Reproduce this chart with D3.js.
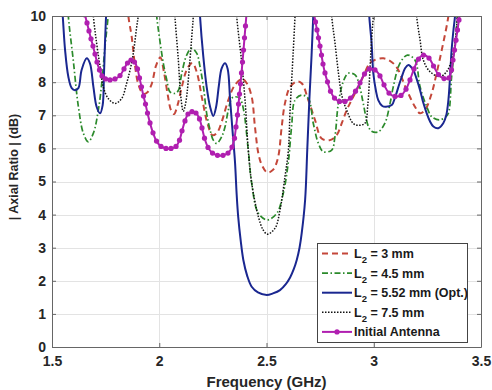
<!DOCTYPE html>
<html>
<head>
<meta charset="utf-8">
<script src="https://cdn.jsdelivr.net/npm/d3@7"></script>
<style>
  body { margin: 0; background: #fff; }
  svg { display: block; font-family: "Liberation Sans", Arial, Helvetica, sans-serif; }
</style>
</head>
<body>
<svg width="492" height="390"></svg>
<script>
// tick values
var freqTicks = [1.5, 2, 2.5, 3, 3.5];
var arTicks = [0, 1, 2, 3, 4, 5, 6, 7, 8, 9, 10];

// [frequency GHz, axial ratio dB]; null = curve leaves the plot (above 10 dB)
var l2_3mm = [
  [1.845,11.2],[1.856,10],[1.871,9.4],[1.887,8.5],[1.902,7.95],[1.925,7.65],[1.945,7.7],[1.965,7.95],
  [1.985,8.5],[2.005,8.75],[2.022,8.3],[2.04,7.6],[2.055,7.15],[2.069,7.04],[2.085,7.3],[2.105,7.85],
  [2.13,8.4],[2.155,8.58],[2.175,8.3],[2.2,7.5],[2.225,6.75],[2.248,6.4],[2.27,6.48],[2.291,6.8],
  [2.322,7.46],[2.353,7.92],[2.386,8.1],[2.408,7.97],[2.431,7.56],[2.446,6.66],[2.462,5.85],[2.478,5.5],
  [2.504,5.27],[2.53,5.35],[2.553,5.7],[2.571,6.66],[2.586,7.36],[2.61,7.86],[2.641,8.02],[2.664,7.97],
  [2.695,7.46],[2.726,6.86],[2.757,6.3],[2.796,6.25],[2.827,6.4],[2.851,6.76],[2.874,7.16],[2.897,7.46],
  [2.928,7.86],[2.951,8.17],[2.986,8.6],[3.045,8.72],[3.099,8.52],[3.154,7.76],[3.192,7.26],[3.216,7.06],
  [3.239,7.16],[3.27,7.66],[3.293,8.27],[3.317,8.97],[3.348,10],[3.36,10.8]
];

var l2_4_5mm = [
  [1.565,11.2],[1.576,10],[1.599,8.67],[1.623,7.26],[1.646,6.46],[1.669,6.2],[1.693,6.46],[1.716,7.16],
  [1.732,7.97],[1.747,9.07],[1.762,10],[1.775,11],
  null,
  [1.975,11.2],[1.988,10],[1.996,9.58],[2.019,8.57],[2.035,8.07],[2.05,7.71],[2.073,7.66],[2.089,7.75],
  [2.105,8.27],[2.128,8.82],[2.151,9.02],[2.175,8.87],[2.19,8.47],[2.206,7.86],[2.221,7.06],[2.237,6.56],
  [2.252,6.25],[2.268,6.15],[2.291,6.35],[2.307,6.66],[2.322,7.16],[2.338,7.51],[2.353,7.56],[2.376,7.51],
  [2.392,7.2],[2.415,5.95],[2.431,4.95],[2.462,4.04],[2.504,3.84],[2.548,4.04],[2.578,4.64],[2.602,5.6],
  [2.617,6.66],[2.633,7.46],[2.664,7.61],[2.695,7.51],[2.718,6.76],[2.742,6.15],[2.765,5.9],[2.804,5.95],
  [2.819,6.35],[2.835,7.36],[2.858,8.02],[2.881,8.27],[2.913,8.22],[2.936,7.82],[2.951,7.36],[2.975,6.66],
  [2.99,6.52],[3.021,6.5],[3.052,6.76],[3.076,7.36],[3.091,7.86],[3.122,8.57],[3.157,8.82],[3.192,8.67],
  [3.216,7.86],[3.247,7.26],[3.27,6.96],[3.305,6.86],[3.335,6.95],[3.348,7.06],[3.363,8.17],[3.379,9.18],
  [3.39,10],[3.4,11]
];

var l2_5_52mm = [
  [1.535,11.3],[1.55,10],[1.561,8.97],[1.576,8.17],[1.592,7.82],[1.607,7.76],[1.623,7.82],[1.638,8.37],
  [1.662,8.72],[1.677,8.57],[1.693,7.86],[1.708,7.26],[1.724,7.06],[1.736,7.3],[1.742,8.17],[1.747,9.18],
  [1.752,10],[1.758,11],
  null,
  [2.18,11.3],[2.19,10],[2.205,8.8],[2.221,7.86],[2.237,7.26],[2.252,6.98],[2.265,7.25],[2.278,7.9],
  [2.291,8.42],[2.307,8.57],[2.319,8.4],[2.33,7.5],[2.342,6.5],[2.353,5.6],[2.361,4.6],[2.368,3.94],
  [2.38,3.2],[2.392,2.63],[2.41,2.15],[2.431,1.82],[2.46,1.65],[2.501,1.57],[2.53,1.62],[2.563,1.72],
  [2.59,1.9],[2.61,2.1],[2.627,2.35],[2.641,2.63],[2.654,3.0],[2.664,3.43],[2.68,4.44],[2.69,5.95],
  [2.7,7.5],[2.71,8.8],[2.718,10],[2.726,11.2],
  null,
  [2.97,11.2],[2.979,10],[2.99,9.18],[2.998,8.27],[3.01,7.75],[3.021,7.46],[3.04,7.28],[3.057,7.26],
  [3.084,7.31],[3.1,7.55],[3.115,7.86],[3.13,8.15],[3.146,8.42],[3.161,8.52],[3.184,8.37],[3.2,8.1],
  [3.216,7.76],[3.23,7.4],[3.247,7.06],[3.262,6.82],[3.278,6.66],[3.301,6.61],[3.324,6.76],[3.338,7.0],
  [3.348,7.46],[3.356,8.2],[3.363,8.97],[3.372,9.6],[3.379,10],[3.39,11]
];

var l2_7_5mm = [
  [1.685,11],[1.693,10],[1.708,9.18],[1.724,8.47],[1.739,7.86],[1.762,7.51],[1.794,7.36],[1.825,7.51],
  [1.848,7.97],[1.864,8.37],[1.879,8.87],[1.895,9.68],[1.902,10],[1.91,10.8],
  null,
  [2.065,11],[2.073,10],[2.089,8.67],[2.1,7.6],[2.112,7.12],[2.124,7.4],[2.143,8.67],[2.154,9.58],
  [2.159,10],[2.167,10.8],
  null,
  [2.353,11],[2.361,10],[2.384,8.62],[2.4,7.46],[2.415,5.95],[2.431,4.95],[2.462,3.94],[2.485,3.53],
  [2.504,3.41],[2.54,3.59],[2.563,4.14],[2.586,5.14],[2.602,5.95],[2.61,7.16],[2.625,8.97],[2.633,10],
  [2.64,11],
  null,
  [2.797,11],[2.804,10],[2.819,9.2],[2.835,8.3],[2.851,7.6],[2.874,7.15],[2.905,6.75],[2.93,6.7],
  [2.959,6.76],[2.972,7.3],[2.983,8.47],[2.99,9.3],[2.998,10],[3.005,11],
  null,
  [3.192,11],[3.2,10],[3.216,9.27],[3.231,8.67],[3.262,8.32],[3.309,8.17],[3.34,8.32],[3.363,8.67],
  [3.379,9.18],[3.39,10],[3.4,11]
];

var initialAntenna = [
  [1.6538,10.03],[1.6632,9.79],[1.6725,9.55],[1.6818,9.31],[1.6911,9.09],[1.7005,8.85],[1.7098,8.61],
  [1.7214,8.37],[1.7331,8.19],[1.7494,8.10],[1.7704,8.07],[1.7937,8.10],[1.8170,8.20],[1.8357,8.40],
  [1.8520,8.58],[1.8683,8.67],[1.8846,8.61],[1.8986,8.40],[1.9079,8.13],[1.9172,7.86],[1.9266,7.58],
  [1.9359,7.34],[1.9452,7.07],[1.9569,6.77],[1.9709,6.47],[1.9872,6.22],[2.0082,6.06],[2.0315,6.00],
  [2.0548,6.00],[2.0781,6.06],[2.0944,6.25],[2.1061,6.53],[2.1200,6.83],[2.1340,7.04],[2.1527,7.11],
  [2.1713,7.07],[2.1876,6.89],[2.1993,6.62],[2.2110,6.31],[2.2273,6.03],[2.2483,5.86],[2.2716,5.79],
  [2.2972,5.79],[2.3205,5.86],[2.3392,6.04],[2.3508,6.31],[2.3578,6.65],[2.3648,7.01],[2.3695,7.34],
  [2.3741,7.64],[2.3788,7.95],[2.3834,8.28],[2.3881,8.61],[2.3928,8.97],[2.3974,9.34],[2.4021,9.70],
  [2.4068,10.06],
  null,
  [2.7214,10.06],[2.7284,9.82],[2.7354,9.58],[2.7424,9.34],[2.7494,9.09],[2.7564,8.82],[2.7634,8.55],
  [2.7727,8.28],[2.7844,8.01],[2.7984,7.73],[2.8170,7.52],[2.8403,7.42],[2.8660,7.42],[2.8916,7.52],
  [2.9149,7.73],[2.9359,7.98],[2.9569,8.25],[2.9802,8.40],[3.0058,8.37],[3.0291,8.19],[3.0478,7.92],
  [3.0711,7.67],[3.0991,7.57],[3.1270,7.60],[3.1503,7.79],[3.1690,8.07],[3.1876,8.40],[3.2086,8.70],
  [3.2319,8.82],[3.2576,8.73],[3.2786,8.49],[3.3019,8.23],[3.3275,8.11],[3.3508,8.13],[3.3625,8.37],
  [3.3695,8.67],[3.3765,8.97],[3.3834,9.27],[3.3904,9.58],[3.3974,9.88],[3.4021,10.12]
];

var legendNames = [" = 3 mm", " = 4.5 mm", " = 5.52 mm (Opt.)", " = 7.5 mm", "Initial Antenna"];

var svg = d3.select("svg");
var x = d3.scaleLinear().domain([1.5, 3.5]).range([52, 481]);
var y = d3.scaleLinear().domain([0, 10]).range([347, 16]);

svg.append("defs").append("clipPath").attr("id", "plotClip")
  .append("rect")
  .attr("x", x(1.5)).attr("y", y(10))
  .attr("width", x(3.5) - x(1.5)).attr("height", y(0) - y(10));

// grid
var gGrid = svg.append("g").attr("stroke", "#e3e3e3").attr("stroke-width", 1);
gGrid.selectAll(".vg").data(freqTicks.slice(1, -1)).enter().append("line")
  .attr("x1", function(d) { return Math.round(x(d)) + 0.5; })
  .attr("x2", function(d) { return Math.round(x(d)) + 0.5; })
  .attr("y1", y(10)).attr("y2", y(0));
gGrid.selectAll(".hg").data(arTicks.slice(1, -1)).enter().append("line")
  .attr("y1", function(d) { return Math.round(y(d)) + 0.5; })
  .attr("y2", function(d) { return Math.round(y(d)) + 0.5; })
  .attr("x1", x(1.5)).attr("x2", x(3.5));

// curves
var line = d3.line()
  .defined(function(d) { return d !== null; })
  .x(function(d) { return x(d[0]); })
  .y(function(d) { return y(d[1]); })
  .curve(d3.curveCatmullRom.alpha(0.5));

var series = [
  { data: l2_3mm,        color: "#c4473a", width: 2,   dash: "6,4" },
  { data: l2_4_5mm,      color: "#2b8a2b", width: 1.7, dash: "6,2.5,1.5,2.5" },
  { data: l2_5_52mm,     color: "#1a2790", width: 2,   dash: null },
  { data: l2_7_5mm,      color: "#111111", width: 1.5, dash: "1.5,1.5" },
  { data: initialAntenna, color: "#b01fb0", width: 2,  dash: null, marker: true }
];

var gLines = svg.append("g").attr("clip-path", "url(#plotClip)");
series.forEach(function(s) {
  gLines.append("path")
    .attr("d", line(s.data))
    .attr("fill", "none")
    .attr("stroke", s.color)
    .attr("stroke-width", s.width)
    .attr("stroke-dasharray", s.dash);
  if (s.marker) {
    gLines.selectAll(null)
      .data(s.data.filter(function(d) { return d !== null; }))
      .enter().append("circle")
      .attr("cx", function(d) { return x(d[0]); })
      .attr("cy", function(d) { return y(d[1]); })
      .attr("r", 2.6)
      .attr("fill", s.color);
  }
});

// axes (box with inward ticks on all sides)
function styleAxis(g) {
  g.select(".domain").attr("stroke", "#666");
  g.selectAll(".tick line").attr("stroke", "#666");
  g.selectAll("text")
    .attr("font-family", "Liberation Sans, Arial, sans-serif")
    .attr("font-size", 14).attr("font-weight", "bold").attr("fill", "#262626");
}

svg.append("g").attr("transform", "translate(0," + y(0) + ")")
  .call(d3.axisBottom(x).tickValues(freqTicks).tickFormat(d3.format(""))
    .tickSizeInner(-4).tickSizeOuter(0).tickPadding(9))
  .call(styleAxis);

svg.append("g").attr("transform", "translate(" + x(1.5) + ",0)")
  .call(d3.axisLeft(y).tickValues(arTicks).tickFormat(d3.format("d"))
    .tickSizeInner(-4).tickSizeOuter(0).tickPadding(6))
  .call(styleAxis);

svg.append("g").attr("transform", "translate(0," + y(10) + ")")
  .call(d3.axisTop(x).tickValues(freqTicks).tickFormat("")
    .tickSizeInner(-4).tickSizeOuter(0))
  .call(styleAxis);

svg.append("g").attr("transform", "translate(" + x(3.5) + ",0)")
  .call(d3.axisRight(y).tickValues(arTicks).tickFormat("")
    .tickSizeInner(-4).tickSizeOuter(0))
  .call(styleAxis);

// axis titles
svg.append("text")
  .attr("x", (x(1.5) + x(3.5)) / 2).attr("y", 387)
  .attr("text-anchor", "middle")
  .attr("font-size", 15).attr("font-weight", "bold").attr("fill", "#262626")
  .text("Frequency (GHz)");

svg.append("text")
  .attr("transform", "translate(18,167) rotate(-90)")
  .attr("text-anchor", "middle")
  .attr("font-size", 12.5).attr("font-weight", "bold").attr("fill", "#262626")
  .text("| Axial Ratio | (dB)");

// legend
var gLeg = svg.append("g").attr("transform", "translate(317,243)");
gLeg.append("rect")
  .attr("x", 0.5).attr("y", 0.5).attr("width", 150).attr("height", 99)
  .attr("fill", "#fff").attr("stroke", "#444").attr("stroke-width", 1);

var rows = gLeg.selectAll(".row").data(series).enter().append("g")
  .attr("transform", function(d, i) { return "translate(0," + (10.5 + i * 19.6) + ")"; });

rows.append("line")
  .attr("x1", 5).attr("x2", 35).attr("y1", 0).attr("y2", 0)
  .attr("stroke", function(d) { return d.color; })
  .attr("stroke-width", function(d) { return d.width; })
  .attr("stroke-dasharray", function(d) { return d.dash; });

rows.filter(function(d) { return d.marker; }).append("circle")
  .attr("cx", 20).attr("cy", 0).attr("r", 2.6)
  .attr("fill", function(d) { return d.color; });

rows.each(function(d, i) {
  var t = d3.select(this).append("text")
    .attr("x", 37).attr("y", 4.5)
    .attr("font-size", 12.5).attr("font-weight", "bold").attr("fill", "#1a1a1a");
  if (i < 4) {
    t.append("tspan").text("L");
    t.append("tspan").attr("dy", 5).attr("font-size", 9.5).text("2");
    t.append("tspan").attr("dy", -5).text(legendNames[i]);
  } else {
    t.text(legendNames[i]);
  }
});
</script>
</body>
</html>
